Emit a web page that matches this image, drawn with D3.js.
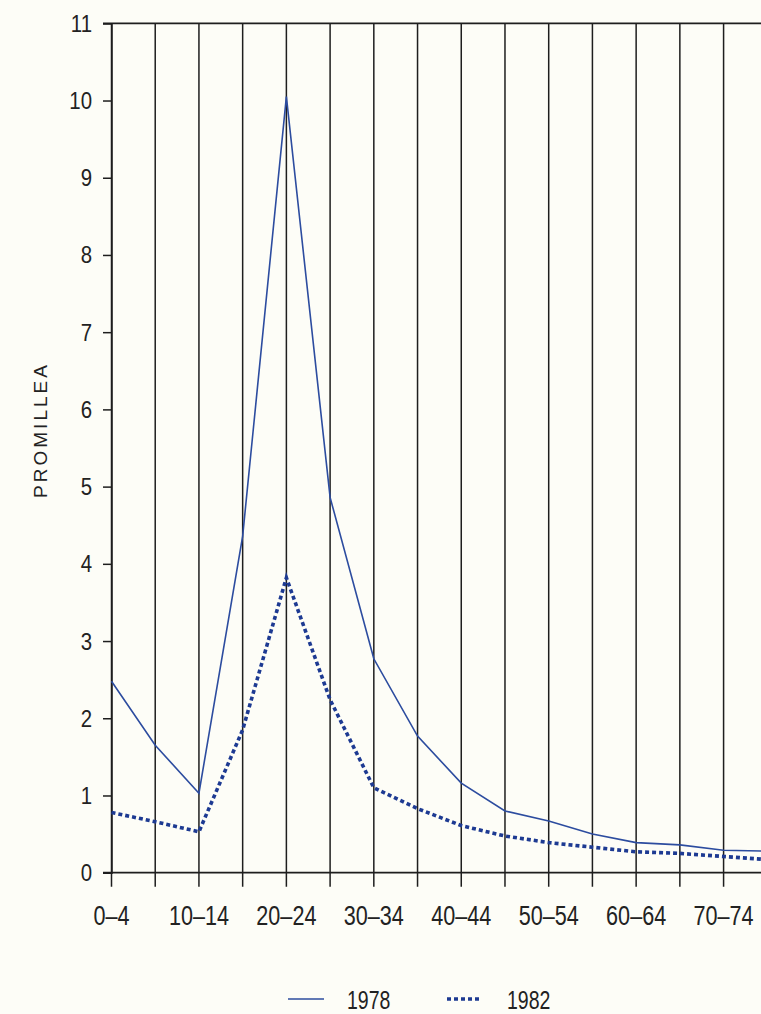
<!DOCTYPE html>
<html>
<head>
<meta charset="utf-8">
<script src="https://cdn.jsdelivr.net/npm/d3@7"></script>
<style>
  html, body { margin: 0; padding: 0; background: #fdfdf7; }
  svg { display: block; }
</style>
</head>
<body>
<svg id="chart" width="761" height="1014"></svg>
<script>
const categories = ["0–4","5–9","10–14","15–19","20–24","25–29","30–34","35–39","40–44","45–49","50–54","55–59","60–64","65–69","70–74","75–79"];
const values1978 = [2.48, 1.65, 1.03, 4.36, 10.05, 4.86, 2.77, 1.77, 1.16, 0.80, 0.67, 0.50, 0.39, 0.36, 0.29, 0.28];
const values1982 = [0.78, 0.66, 0.53, 1.85, 3.82, 2.24, 1.10, 0.83, 0.61, 0.475, 0.39, 0.33, 0.27, 0.25, 0.21, 0.17];
const yTicks = [0,1,2,3,4,5,6,7,8,9,10,11];
const xLabelCats = ["0–4","10–14","20–24","30–34","40–44","50–54","60–64","70–74"];
const seriesNames = ["1978","1982"];
const yLabel = "PROMILLEA";

(function () {
const svg = d3.select("#chart");
const W = 761;
const plotLeft = 111.5, plotTop = 23.3, plotBottom = 872.7, step = 43.72;
const fontNarrow = "'Liberation Sans', Arial, sans-serif";

const x = d3.scalePoint().domain(categories).range([plotLeft, plotLeft + step * (categories.length - 1)]);
const y = d3.scaleLinear().domain([0, 11]).range([plotBottom, plotTop]);

const ink = "#1e1e1e";
const c1978 = "#2c4c9f";
const c1982 = "#1d3a92";

// vertical grid lines (extend below axis as ticks)
svg.append("g").selectAll("line").data(categories).join("line")
  .attr("x1", d => x(d)).attr("x2", d => x(d))
  .attr("y1", plotTop).attr("y2", plotBottom + 14)
  .attr("stroke", ink).attr("stroke-width", 1.5);

// top and bottom horizontal lines
svg.append("line").attr("x1", plotLeft - 8.5).attr("x2", W).attr("y1", y(11)).attr("y2", y(11))
  .attr("stroke", ink).attr("stroke-width", 1.7);
svg.append("line").attr("x1", plotLeft - 8.5).attr("x2", W).attr("y1", y(0)).attr("y2", y(0))
  .attr("stroke", ink).attr("stroke-width", 1.7);

// y axis (ticks via d3 axis, labels condensed)
const yAxis = d3.axisLeft(y).tickValues(yTicks).tickSize(8.5).tickFormat("");
const gy = svg.append("g").attr("transform", `translate(${plotLeft},0)`).call(yAxis);
gy.select(".domain").attr("stroke", ink).attr("stroke-width", 1.5);
gy.selectAll(".tick line").attr("stroke", ink).attr("stroke-width", 1.5);

svg.append("g").selectAll("text").data(yTicks).join("text")
  .attr("transform", d => `translate(92,${y(d) + 8.5}) scale(0.85,1)`)
  .attr("text-anchor", "end")
  .attr("fill", "#222")
  .style("font-family", fontNarrow)
  .style("font-size", "24px")
  .text(d => d3.format("d")(d));

// x labels
svg.append("g").selectAll("text").data(xLabelCats).join("text")
  .attr("transform", d => `translate(${x(d)},925) scale(0.8,1)`)
  .attr("text-anchor", "middle")
  .attr("fill", "#222")
  .style("font-family", fontNarrow)
  .style("font-size", "27px")
  .text(d => d);

// y axis title
svg.append("text")
  .attr("transform", "translate(47,430) rotate(-90)")
  .attr("text-anchor", "middle")
  .attr("fill", "#222")
  .style("font-family", "'Liberation Sans', Arial, sans-serif")
  .style("font-size", "19px")
  .style("letter-spacing", "3px")
  .text(yLabel);

// lines
const line = d3.line().x((d, i) => x(categories[i])).y(d => y(d));
svg.append("path").datum(values1978).attr("d", line)
  .attr("fill", "none").attr("stroke", c1978).attr("stroke-width", 1.6);
svg.append("path").datum(values1982).attr("d", line)
  .attr("fill", "none").attr("stroke", c1982).attr("stroke-width", 3.6)
  .attr("stroke-dasharray", "4,3");

// legend
const lg = svg.append("g");
lg.append("line").attr("x1", 288).attr("x2", 324).attr("y1", 999).attr("y2", 999)
  .attr("stroke", c1978).attr("stroke-width", 1.6);
lg.append("text").attr("transform", "translate(347,1009) scale(0.78,1)")
  .attr("fill", "#222")
  .style("font-family", fontNarrow)
  .style("font-size", "25px").text(seriesNames[0]);
lg.append("line").attr("x1", 447).attr("x2", 481).attr("y1", 999).attr("y2", 999)
  .attr("stroke", c1982).attr("stroke-width", 3.4).attr("stroke-dasharray", "4,3");
lg.append("text").attr("transform", "translate(507,1009) scale(0.78,1)")
  .attr("fill", "#222")
  .style("font-family", fontNarrow)
  .style("font-size", "25px").text(seriesNames[1]);
})();
</script>
</body>
</html>
